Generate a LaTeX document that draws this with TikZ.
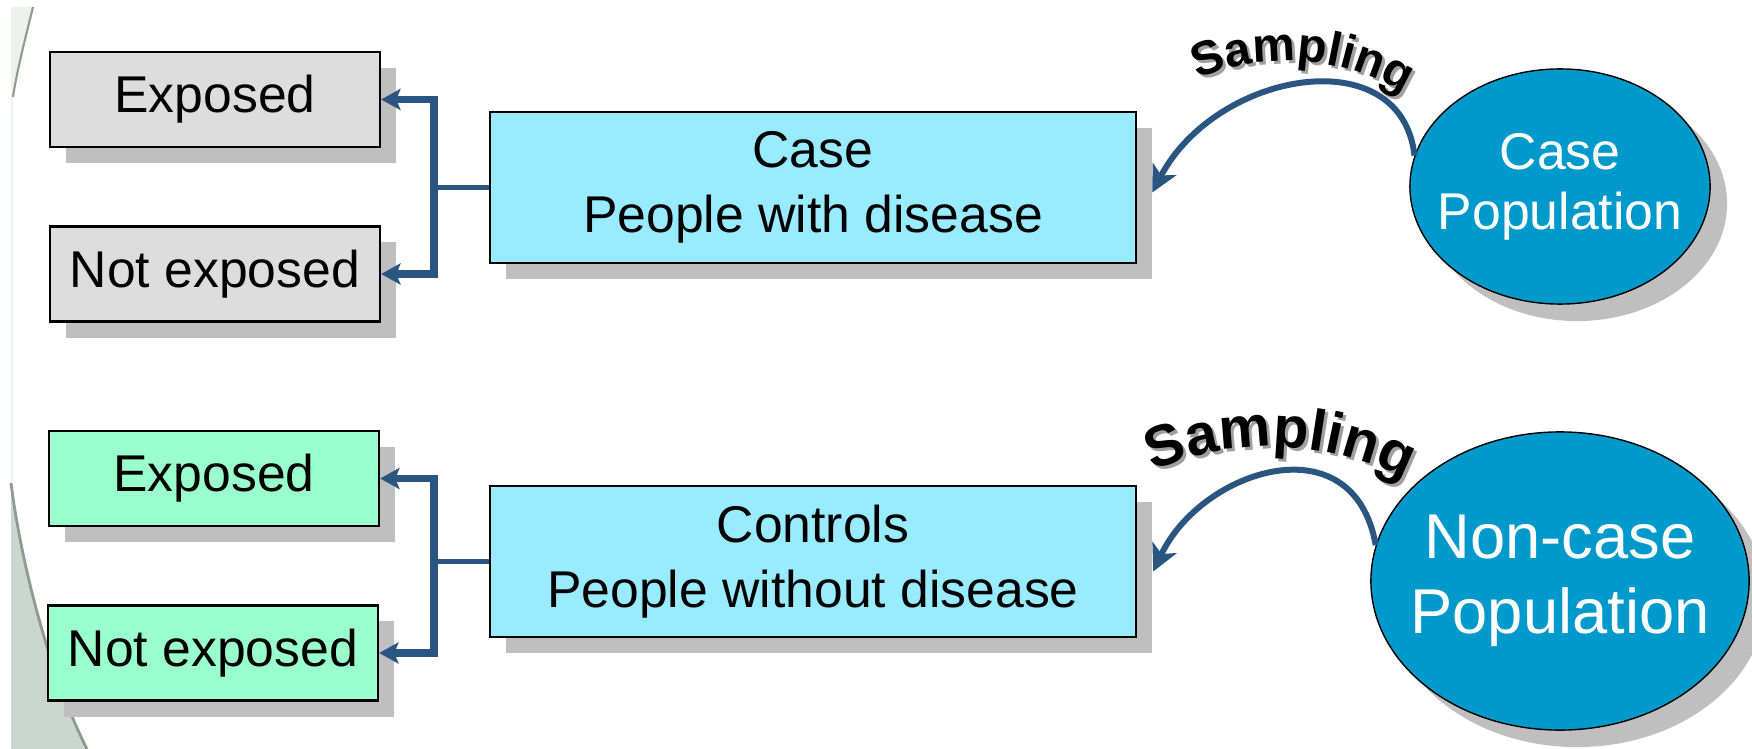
\documentclass[tikz,border=0pt]{standalone}
\usepackage{fontspec}
\setmainfont{Liberation Sans}
\usetikzlibrary{arrows.meta}
\usetikzlibrary{calc}
\usetikzlibrary{shapes.geometric}
\usetikzlibrary{shadows}
\usetikzlibrary{decorations.text}

\definecolor{greybox}{HTML}{DDDDDD}
\definecolor{greenbox}{HTML}{99FFCC}
\definecolor{cyanbox}{HTML}{99EBFF}
\definecolor{popblue}{HTML}{0099CC}
\definecolor{linkblue}{HTML}{2A5580}
\definecolor{shadowgrey}{HTML}{BFBFBF}
\definecolor{textshadow}{HTML}{A0A0A0}
\definecolor{slidelight}{HTML}{EEF2EE}
\definecolor{slidedark}{HTML}{CAD6CE}
\definecolor{slideline}{HTML}{8F9A93}

\newcommand{\sampfont}[1]{\fontsize{#1}{#1}\selectfont\bfseries}

\begin{document}
\begin{tikzpicture}[x=0.01cm, y=-0.01cm]

% Define styles
\tikzset{
    boxshadow/.style={drop shadow={shadow xshift=0.16cm, shadow yshift=-0.16cm, fill=shadowgrey, opacity=1}},
    outbox/.style={draw=black, line width=0.6pt, inner sep=0pt, minimum width=3.3cm, minimum height=0.95cm, font=\fontsize{14.7}{17.6}\selectfont, boxshadow},
    caseout/.style={outbox, fill=greybox},
    ctrlout/.style={outbox, fill=greenbox},
    groupbox/.style={draw=black, line width=0.6pt, fill=cyanbox, inner sep=0pt, minimum width=6.46cm, minimum height=1.51cm, align=center, font=\fontsize{14.7}{18.5}\selectfont, boxshadow},
    popnode/.style={ellipse, draw=black, line width=0.4pt, fill=popblue, inner sep=0pt, drop shadow={shadow xshift=0.17cm, shadow yshift=-0.17cm, fill=shadowgrey, opacity=1}},
    poptext/.style={text=white, align=center},
    stem/.style={linkblue, line width=1.6pt},
    branch/.style={linkblue, line width=2.2pt, -{Stealth[length=5.5pt, width=6pt, inset=1.2pt]}},
    sampling/.style={linkblue, line width=1.7pt, -{Stealth[length=7.5pt, width=7.5pt, inset=2pt]}},
    sampletext/.style={decorate, decoration={text along path, text align=center, text={|#1|Sampling}}}
}


% whole slide area
\useasboundingbox (0,0) rectangle (1752,749);
\fill[white] (0,0) rectangle (1752,749);


% slide background on the left edge
\fill[slidelight] (11,7) -- (33,7) .. controls (25,40) and (17,70) .. (13,97) -- (13,749) -- (11,749) -- cycle;
\draw[slideline, line width=0.6pt] (33,7) .. controls (25,40) and (17,70) .. (13,97);
\fill[slidedark] (11,483) .. controls (22,570) and (52,680) .. (87,749) -- (11,749) -- cycle;
\draw[slideline, line width=0.8pt] (11,483) .. controls (22,570) and (52,680) .. (87,749);


% exposure boxes
\node[caseout] (expA) at (215,99.5) {Exposed};
\node[caseout] (notexpA) at (215,274) {Not exposed};

\node[ctrlout] (expB) at (214,478.5) {Exposed};
\node[ctrlout] (notexpB) at (213,653) {Not exposed};


% study groups
\node[groupbox] (casebox) at (813,187.5) {Case\\People with disease};
\node[groupbox] (ctrlbox) at (813,561.5) {Controls\\People without disease};


% populations
\node[popnode, minimum width=3cm, minimum height=2.35cm] (casepop) at (1560,186.5) {};
\node[poptext, font=\fontsize{14.7}{17}\selectfont] (casepoptext) at (casepop) {Case\\Population};

\node[popnode, minimum width=3.78cm, minimum height=2.98cm] (noncasepop) at (1560,581) {};
\node[poptext, font=\fontsize{18}{21.3}\selectfont] (noncasepoptext) at (noncasepop) {Non-case\\Population};


% brackets to the exposure boxes
\draw[stem] (casebox.west) -- ++(-55,0) coordinate (caseFork);
\draw[branch] (caseFork) |- (expA.east);
\draw[branch] (caseFork) |- (notexpA.east);

\draw[stem] (ctrlbox.west) -- ++(-55,0) coordinate (ctrlFork);
\draw[branch] (ctrlFork) |- (expB.east);
\draw[branch] (ctrlFork) |- (notexpB.east);


% sampling arrows
\draw[sampling] (casepop.168) .. controls +(-13,-117) and +(64,-122) .. ($(casebox.east)+(15,5)$);
\draw[sampling] (noncasepop.169) .. controls +(-22,-125) and +(48,-102) .. ($(ctrlbox.east)+(16,10)$);


% Sampling labels, shadow first
\path[sampletext={\sampfont{13.6}\color{textshadow}}, xshift=0.03cm, yshift=-0.03cm] ($(1287,288)+(204:227)$) arc[start angle=204, end angle=344, radius=227];
\path[sampletext={\sampfont{13.6}\color{black}}] ($(1287,288)+(204:227)$) arc[start angle=204, end angle=344, radius=227];

\path[sampletext={\sampfont{16.5}\color{textshadow}}, xshift=0.03cm, yshift=-0.03cm] ($(1270,747)+(202:300)$) arc[start angle=202, end angle=342, radius=300];
\path[sampletext={\sampfont{16.5}\color{black}}] ($(1270,747)+(202:300)$) arc[start angle=202, end angle=342, radius=300];

\end{tikzpicture}
\end{document}
